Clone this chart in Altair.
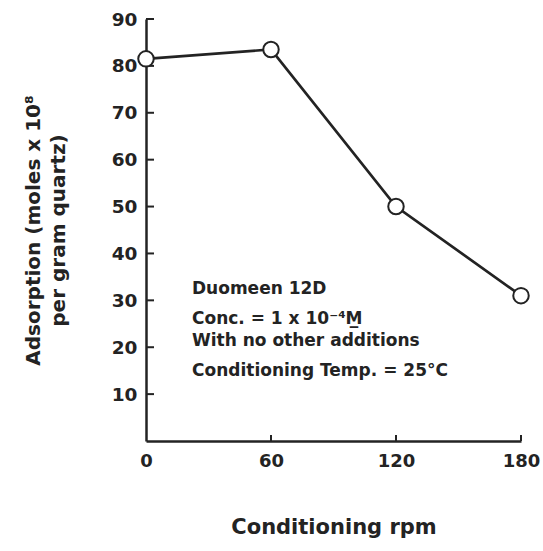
import altair as alt
import pandas as pd

rpm = [0, 60, 120, 180]
adsorption = [81.5, 83.5, 50, 31]
y_ticks = [10, 20, 30, 40, 50, 60, 70, 80, 90]
x_ticks = [0, 60, 120, 180]
x_inner_ticks = [60, 120, 180]
notes = ["Duomeen 12D", "Conc. = 1 x 10\u207b\u2074M\u0332", "With no other additions",
         "Conditioning Temp. = 25\u00b0C"]
note_y = [275, 305, 327, 357]

INK = "#232323"
FONT = "DejaVu Sans"
W, H = 375, 422

df = pd.DataFrame({"rpm": rpm, "ads": adsorption})
xs = alt.Scale(domain=[0, 180], nice=False, zero=False)
ys = alt.Scale(domain=[0, 90], nice=False)

xax = alt.Axis(values=x_ticks, tickSize=0, labelPadding=11, title="Conditioning rpm",
               titlePadding=46, labelFontSize=18, titleFontSize=21, labelFlush=False)
yax = alt.Axis(values=y_ticks, tickSize=0, labelPadding=9,
               title=["Adsorption (moles x 10\u2078", "per gram quartz)"],
               titlePadding=43, labelFontSize=18.5, titleFontSize=20, titleLineHeight=25)

base = alt.Chart(df)
line = base.mark_line(color=INK, strokeWidth=2.7).encode(
    x=alt.X("rpm:Q", scale=xs, axis=xax),
    y=alt.Y("ads:Q", scale=ys, axis=yax),
)
pts = base.mark_point(shape="circle", size=240, filled=True, fill="white",
                      stroke=INK, strokeWidth=2, opacity=1).encode(
    x=alt.X("rpm:Q", scale=xs), y=alt.Y("ads:Q", scale=ys))

yt = alt.Chart(pd.DataFrame({"v": y_ticks})).mark_rule(color=INK, strokeWidth=2).encode(
    y=alt.Y("v:Q", scale=ys), x=alt.value(0), x2=alt.value(8))
xt = alt.Chart(pd.DataFrame({"v": x_inner_ticks})).mark_rule(color=INK, strokeWidth=2).encode(
    x=alt.X("v:Q", scale=xs), y=alt.value(H), y2=alt.value(H - 6))

txt = alt.Chart(pd.DataFrame({"t": notes, "py": note_y})).mark_text(
    align="left", baseline="alphabetic", font=FONT, fontWeight="bold", fontSize=17,
    color=INK).encode(text="t:N", x=alt.value(46), y=alt.Y("py:Q", scale=None))

chart = alt.layer(line, yt, xt, pts, txt).properties(
    width=W, height=H,
    autosize=alt.AutoSizeParams(type="none"),
    padding={"left": 146, "top": 19, "right": 22, "bottom": 110},
    background="white",
).configure_view(stroke=None).configure_axis(
    grid=False, domainColor=INK, domainWidth=2.5, labelColor=INK, titleColor=INK,
    labelFont=FONT, titleFont=FONT, labelFontWeight="bold", titleFontWeight="bold",
)

chart.save("out.html", embed_options={"renderer": "svg", "actions": False})
